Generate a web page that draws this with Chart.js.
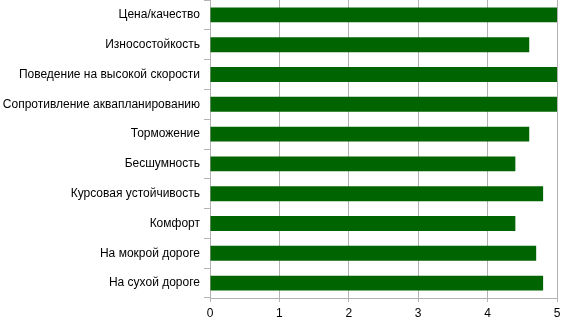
<!DOCTYPE html>
<html><head><meta charset="utf-8">
<script src="https://cdn.jsdelivr.net/npm/chart.js@4/dist/chart.umd.min.js"></script>
<style>html,body{margin:0;padding:0;background:#fff}#w{width:561px;height:319px;position:relative}</style>
</head><body><div id="w"><canvas id="c"></canvas></div>
<script>
const categories = ["Цена/качество","Износостойкость","Поведение на высокой скорости","Сопротивление аквапланированию","Торможение","Бесшумность","Курсовая устойчивость","Комфорт","На мокрой дороге","На сухой дороге"];
const values = [5,4.6,5,5,4.6,4.4,4.8,4.4,4.7,4.8];
const xTicks = [0,1,2,3,4,5];
const font = {family:"'Liberation Sans', Arial, sans-serif", size:12};
new Chart(document.getElementById('c'), {
  type:'bar',
  data:{labels:categories, datasets:[{data:values, backgroundColor:'#006400', barPercentage:0.5, categoryPercentage:1}]},
  options:{
    indexAxis:'y', responsive:true, maintainAspectRatio:false, animation:false,
    layout:{padding:{top:0,right:0,bottom:0,left:0}},
    plugins:{legend:{display:false}, tooltip:{enabled:false}},
    scales:{
      x:{min:0,max:5,
        afterBuildTicks:(a)=>{a.ticks=xTicks.map(v=>({value:v}));},
        grid:{color:'#b3b3b3',tickLength:4,drawTicks:true},
        border:{color:'#b3b3b3'},
        ticks:{color:'#000',font:font,padding:4,maxRotation:0},
        afterFit:(s)=>{s.height=21; s.paddingRight=4; s.paddingLeft=0;}
      },
      y:{
        grid:{offset:true,drawOnChartArea:false,color:'#b3b3b3',tickLength:6},
        border:{color:'#b3b3b3'},
        ticks:{color:'#000',font:font,padding:4},
        afterFit:(s)=>{s.width=210; s.paddingTop=0; s.paddingBottom=0;}
      }
    }
  }
});
</script></body></html>
